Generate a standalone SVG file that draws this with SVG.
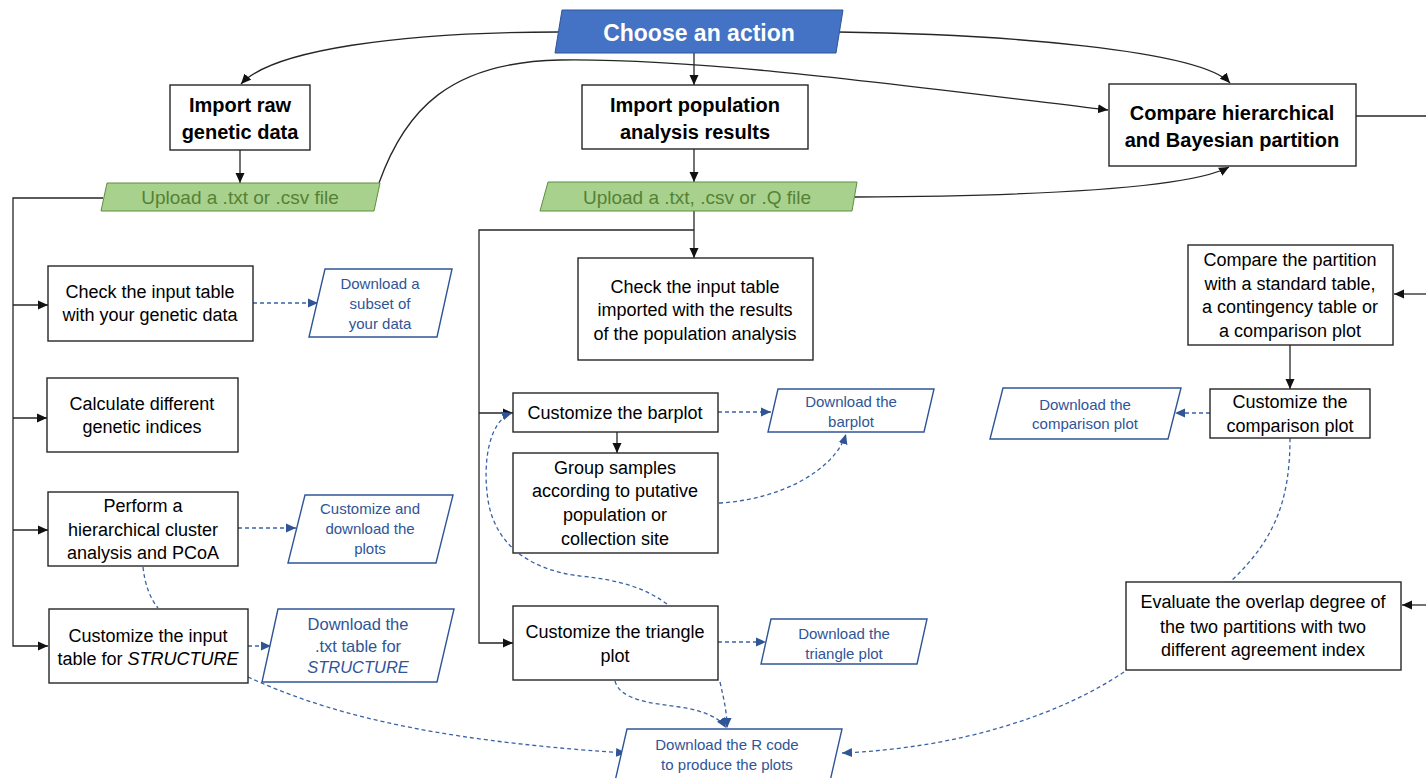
<svg xmlns="http://www.w3.org/2000/svg" width="1426" height="778" viewBox="0 0 1426 778">
<style>
text{font-family:"Liberation Sans",Arial,sans-serif;text-anchor:middle}
.box{fill:#fff;stroke:#262626;stroke-width:1.4}
.dl{fill:#fff;stroke:#2F5597;stroke-width:1.4}
.grn{fill:#A9D18E;stroke:#5E8E3E;stroke-width:1}
.act{fill:#4472C4;stroke:#2F5597;stroke-width:1}
.t{font-size:18px;fill:#000}
.h{font-size:20px;font-weight:bold;fill:#000}
.b{font-size:15px;fill:#2F5597}
.g{font-size:19px;fill:#548235}
.ln{fill:none;stroke:#262626;stroke-width:1.3}
.ds{fill:none;stroke:#3A62A6;stroke-width:1.3;stroke-dasharray:4 3}
</style>
<defs>
<marker id="ak" markerUnits="userSpaceOnUse" markerWidth="11" markerHeight="10" refX="10" refY="5" orient="auto"><path d="M0,0.5 L10,5 L0,9.5 Z" fill="#111"/></marker>
<marker id="ab" markerUnits="userSpaceOnUse" markerWidth="11" markerHeight="10" refX="10" refY="5" orient="auto"><path d="M0,0.5 L10,5 L0,9.5 Z" fill="#2F5597"/></marker>
</defs>
<rect width="1426" height="778" fill="#fff"/>

<g id="connectors">
<path class="ln" d="M558,32 C400,32 272,50 241,84" marker-end="url(#ak)"/>
<path class="ln" d="M694,53 V85" marker-end="url(#ak)"/>
<path class="ln" d="M838,32 C1000,34 1200,50 1230,83" marker-end="url(#ak)"/>
<path class="ln" d="M379,183 C405,110 450,62 560,60 C700,58 900,85 1108,110" marker-end="url(#ak)"/>
<path class="ln" d="M855,197 C1050,196 1190,188 1229,167" marker-end="url(#ak)"/>
<path class="ln" d="M1356,116 H1426"/>
<path class="ln" d="M1426,294 H1394" marker-end="url(#ak)"/>
<path class="ln" d="M1426,605 H1402" marker-end="url(#ak)"/>
<path class="ln" d="M240,150 V183" marker-end="url(#ak)"/>
<path class="ln" d="M694,149 V182" marker-end="url(#ak)"/>
<path class="ln" d="M103,198 H13 V646 H48" marker-end="url(#ak)"/>
<path class="ln" d="M13,305 H48" marker-end="url(#ak)"/>
<path class="ln" d="M13,418 H47" marker-end="url(#ak)"/>
<path class="ln" d="M13,530 H48" marker-end="url(#ak)"/>
<path class="ln" d="M694,211 V258" marker-end="url(#ak)"/>
<path class="ln" d="M694,230 H479 V643 H513" marker-end="url(#ak)"/>
<path class="ln" d="M479,413 H513" marker-end="url(#ak)"/>
<path class="ln" d="M617,432 V453" marker-end="url(#ak)"/>
<path class="ln" d="M1290,345 V389" marker-end="url(#ak)"/>

<path class="ds" d="M253,303 H318" marker-end="url(#ab)"/>
<path class="ds" d="M238,528 H296" marker-end="url(#ab)"/>
<path class="ds" d="M248,646 H271" marker-end="url(#ab)"/>
<path class="ds" d="M143,567 C145,585 150,598 158,608"/>
<path class="ds" d="M248,677 C320,710 420,740 626,753" marker-end="url(#ab)"/>
<path class="ds" d="M718,412 H771" marker-end="url(#ab)"/>
<path class="ds" d="M719,503 C780,500 835,470 846,434" marker-end="url(#ab)"/>
<path class="ds" d="M667,604 C645,588 620,580 580,576 C530,570 495,545 488,500 C482,460 490,420 512,413" marker-end="url(#ab)"/>
<path class="ds" d="M718,642 H766" marker-end="url(#ab)"/>
<path class="ds" d="M615,681 C620,700 650,703 680,707 C705,711 720,718 726,728" marker-end="url(#ab)"/>
<path class="ds" d="M720,682 C724,700 727,712 727,728" marker-end="url(#ab)"/>
<path class="ds" d="M1210,413 H1175" marker-end="url(#ab)"/>
<path class="ds" d="M1290,438 C1290,500 1275,540 1230,582"/>
<path class="ds" d="M1124,672 C1060,715 960,748 842,753" marker-end="url(#ab)"/>
</g>

<g id="choose">
<polygon class="act" points="562,10 843,10 836,53 555,53"/>
<text x="699" y="41" style="font-size:23px;font-weight:bold;fill:#fff">Choose an action</text>
</g>

<g id="import-raw">
<rect class="box" x="170" y="85" width="140" height="65"/>
<text class="h" x="240" y="112">Import raw</text>
<text class="h" x="240" y="139">genetic data</text>
</g>

<g id="import-pop">
<rect class="box" x="582" y="85" width="226" height="64"/>
<text class="h" x="695" y="112">Import population</text>
<text class="h" x="695" y="139">analysis results</text>
</g>

<g id="compare">
<rect class="box" x="1109" y="84" width="247" height="82"/>
<text class="h" x="1232" y="120">Compare hierarchical</text>
<text class="h" x="1232" y="147">and Bayesian partition</text>
</g>

<g id="upload-raw">
<polygon class="grn" points="107,183 380,183 374,211 101,211"/>
<text class="g" x="240" y="204">Upload a .txt or .csv file</text>
</g>

<g id="upload-pop">
<polygon class="grn" points="548,182 857,182 852,211 540,211"/>
<text class="g" x="697" y="204">Upload a .txt, .csv or .Q file</text>
</g>

<g id="check-genetic">
<rect class="box" x="48" y="266" width="205" height="75"/>
<text class="t" x="150" y="298">Check the input table</text>
<text class="t" x="150" y="321">with your genetic data</text>
</g>

<g id="calculate">
<rect class="box" x="47" y="378" width="191" height="74"/>
<text class="t" x="142" y="410">Calculate different</text>
<text class="t" x="142" y="433">genetic indices</text>
</g>

<g id="perform">
<rect class="box" x="48" y="492" width="190" height="74"/>
<text class="t" x="143" y="512">Perform a</text>
<text class="t" x="143" y="536">hierarchical cluster</text>
<text class="t" x="143" y="559">analysis and PCoA</text>
</g>

<g id="customize-structure">
<rect class="box" x="49" y="609" width="199" height="74"/>
<text class="t" x="148" y="642">Customize the input</text>
<text class="t" x="148" y="665">table for <tspan font-style="italic">STRUCTURE</tspan></text>
</g>

<g id="dl-subset">
<polygon class="dl" points="325,269 452,269 437,337 309,337"/>
<text class="b" x="380" y="289">Download a</text>
<text class="b" x="380" y="309">subset of</text>
<text class="b" x="380" y="329">your data</text>
</g>

<g id="dl-plots">
<polygon class="dl" points="305,495 453,495 436,563 288,563"/>
<text class="b" x="370" y="514">Customize and</text>
<text class="b" x="370" y="534">download the</text>
<text class="b" x="370" y="554">plots</text>
</g>

<g id="dl-structure">
<polygon class="dl" points="278,609 454,609 437,682 262,682"/>
<text class="b" x="358" y="630" style="font-size:16.5px">Download the</text>
<text class="b" x="358" y="652" style="font-size:16.5px">.txt table for</text>
<text class="b" x="358" y="673" style="font-size:16.5px;font-style:italic">STRUCTURE</text>
</g>

<g id="check-pop">
<rect class="box" x="578" y="258" width="235" height="102"/>
<text class="t" x="695" y="293">Check the input table</text>
<text class="t" x="695" y="316">imported with the results</text>
<text class="t" x="695" y="340">of the population analysis</text>
</g>

<g id="barplot">
<rect class="box" x="513" y="393" width="205" height="39"/>
<text class="t" x="615" y="419">Customize the barplot</text>
</g>

<g id="group">
<rect class="box" x="513" y="453" width="205" height="100"/>
<text class="t" x="615" y="474">Group samples</text>
<text class="t" x="615" y="497">according to putative</text>
<text class="t" x="615" y="521">population or</text>
<text class="t" x="615" y="545">collection site</text>
</g>

<g id="dl-barplot">
<polygon class="dl" points="778,389 934,389 924,432 768,432"/>
<text class="b" x="851" y="407">Download the</text>
<text class="b" x="851" y="427">barplot</text>
</g>

<g id="triangle">
<rect class="box" x="513" y="606" width="205" height="74"/>
<text class="t" x="615" y="638">Customize the triangle</text>
<text class="t" x="615" y="662">plot</text>
</g>

<g id="dl-triangle">
<polygon class="dl" points="771,619 927,619 917,664 761,664"/>
<text class="b" x="844" y="639">Download the</text>
<text class="b" x="844" y="659">triangle plot</text>
</g>

<g id="dl-rcode">
<polygon class="dl" points="627,729 842,729 828,790 613,790"/>
<text class="b" x="727" y="750">Download the R code</text>
<text class="b" x="727" y="770">to produce the plots</text>
</g>

<g id="compare-partition">
<rect class="box" x="1188" y="245" width="205" height="100"/>
<text class="t" x="1290" y="266">Compare the partition</text>
<text class="t" x="1290" y="290">with a standard table,</text>
<text class="t" x="1290" y="313">a contingency table or</text>
<text class="t" x="1290" y="337">a comparison plot</text>
</g>

<g id="customize-comparison">
<rect class="box" x="1210" y="389" width="160" height="49"/>
<text class="t" x="1290" y="408">Customize the</text>
<text class="t" x="1290" y="432">comparison plot</text>
</g>

<g id="dl-comparison">
<polygon class="dl" points="1003,388 1181,388 1168,439 990,439"/>
<text class="b" x="1085" y="410">Download the</text>
<text class="b" x="1085" y="429">comparison plot</text>
</g>

<g id="evaluate">
<rect class="box" x="1126" y="582" width="275" height="88"/>
<text class="t" x="1263" y="608">Evaluate the overlap degree of</text>
<text class="t" x="1263" y="633">the two partitions with two</text>
<text class="t" x="1263" y="656">different agreement index</text>
</g>
</svg>
